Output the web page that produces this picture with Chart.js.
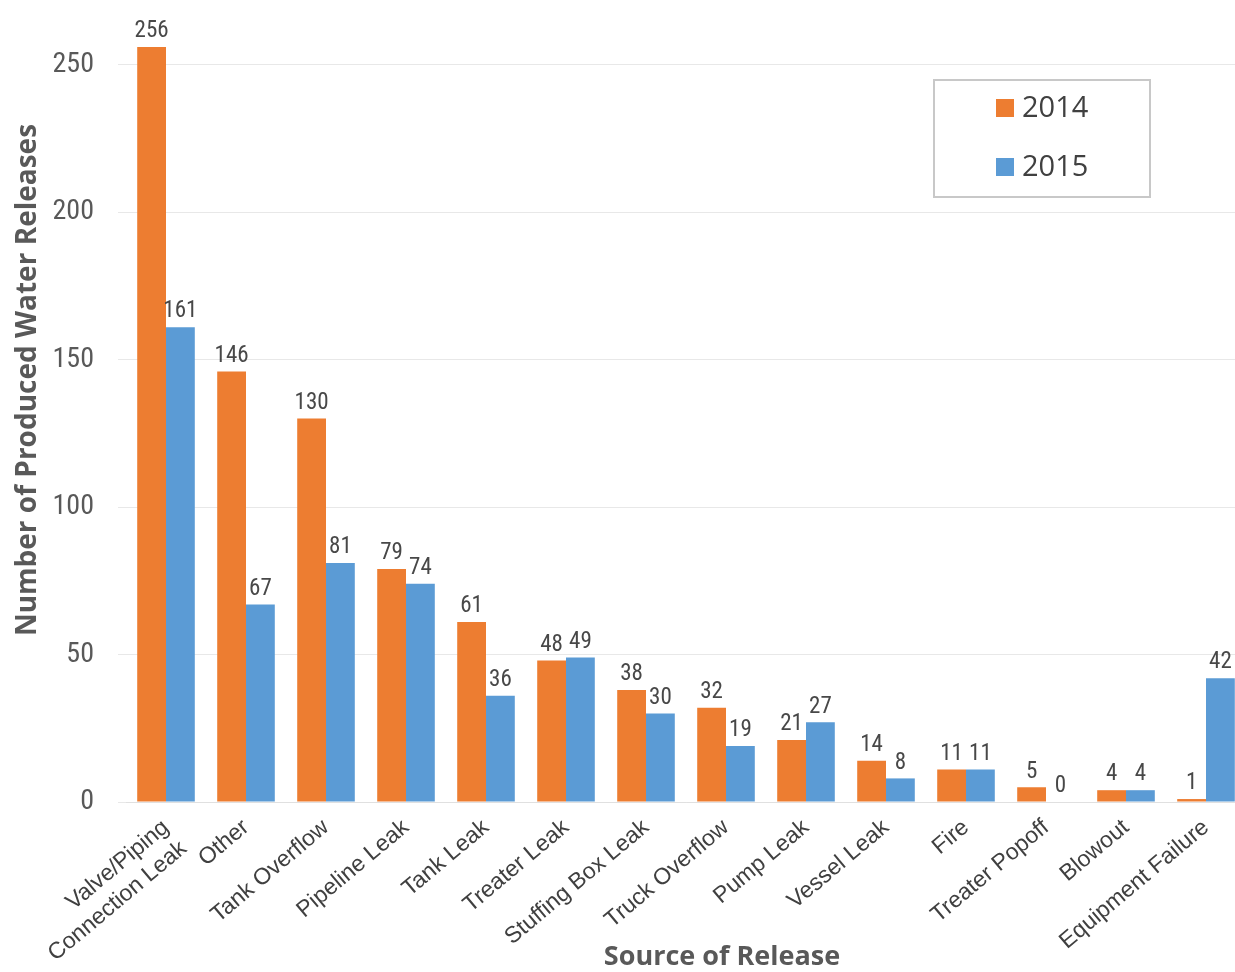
<!DOCTYPE html>
<html>
<head>
<meta charset="utf-8">
<script src="https://cdn.jsdelivr.net/npm/chart.js@4/dist/chart.umd.min.js"></script>
<style>
    html, body { margin: 0; padding: 0; background: #fff; overflow: hidden; }
    #wrap { width: 1250px; height: 972px; position: relative; }
</style>
</head>
<body>
<div id="wrap"><canvas id="releaseChart"></canvas></div>
<script>
// Produced water releases by source
const categories = [
    ['Valve/Piping', 'Connection Leak'], 'Other', 'Tank Overflow', 'Pipeline Leak', 'Tank Leak',
    'Treater Leak', 'Stuffing Box Leak', 'Truck Overflow', 'Pump Leak', 'Vessel Leak',
    'Fire', 'Treater Popoff', 'Blowout', 'Equipment Failure'
];
const releases2014 = [256, 146, 130, 79, 61, 48, 38, 32, 21, 14, 11, 5, 4, 1];
const releases2015 = [161, 67, 81, 74, 36, 49, 30, 19, 27, 8, 11, 0, 4, 42];
const yTicks = [0, 50, 100, 150, 200, 250];

const ORANGE = '#ED7D31';
const BLUE = '#5B9BD5';
const TEXT = '#595959';
const NARROW = "'Liberation Sans Narrow', 'Arial Narrow', 'Roboto Condensed', Arial, sans-serif";
const TITLE_FONT = 'bold 28px "Open Sans", sans-serif';

// value labels above each bar
const barLabels = {
    id: 'barLabels',
    afterDatasetsDraw(chart) {
        const ctx = chart.ctx;
        ctx.save();
        ctx.font = '23px ' + NARROW;
        ctx.fillStyle = '#484848';
        ctx.textAlign = 'center';
        ctx.textBaseline = 'bottom';
        chart.data.datasets.forEach((ds, i) => {
            chart.getDatasetMeta(i).data.forEach((bar, j) => {
                ctx.fillText(ds.data[j], bar.x, bar.y - 4);
            });
        });
        ctx.restore();
    }
};

// axis titles sit off-centre in the original, so draw them by hand
const axisTitles = {
    id: 'axisTitles',
    afterDraw(chart) {
        const ctx = chart.ctx;
        ctx.save();
        ctx.fillStyle = TEXT;
        ctx.textAlign = 'center';
        ctx.textBaseline = 'middle';
        ctx.font = 'bold 27px "Open Sans", sans-serif';
        ctx.fillText('Source of Release', 722, 957);
        ctx.translate(28, 380);
        ctx.rotate(-Math.PI / 2);
        ctx.font = TITLE_FONT;
        ctx.fillText('Number of Produced Water Releases', 0, 0);
        ctx.restore();
    }
};

// boxed legend in upper right
const boxLegend = {
    id: 'boxLegend',
    afterDraw(chart) {
        const ctx = chart.ctx;
        ctx.save();
        ctx.fillStyle = '#fff';
        ctx.fillRect(934, 80, 216, 117);
        ctx.strokeStyle = '#c8c8c8';
        ctx.lineWidth = 2;
        ctx.strokeRect(934, 80, 216, 117);
        ctx.font = '29px "Open Sans", sans-serif';
        ctx.textBaseline = 'middle';
        chart.data.datasets.forEach((ds, i) => {
            const y = 108 + i * 59;
            ctx.fillStyle = ds.backgroundColor;
            ctx.fillRect(996, y - 9, 18, 18);
            ctx.fillStyle = '#404040';
            ctx.fillText(ds.label, 1022, y + 1);
        });
        ctx.restore();
    }
};

const ctx = document.getElementById('releaseChart').getContext('2d');
new Chart(ctx, {
    type: 'bar',
    data: {
        labels: categories,
        datasets: [
            { label: '2014', data: releases2014, backgroundColor: ORANGE },
            { label: '2015', data: releases2015, backgroundColor: BLUE }
        ]
    },
    options: {
        responsive: true,
        maintainAspectRatio: false,
        animation: false,
        layout: { padding: { top: 47, right: 4, left: 0, bottom: 0 } },
        datasets: {
            bar: { categoryPercentage: 0.72, barPercentage: 1 }
        },
        plugins: {
            legend: { display: false },
            tooltip: { enabled: false }
        },
        scales: {
            x: {
                afterFit: axis => { axis.height = 170; },
                grid: { display: false },
                border: { color: '#e0e0e0', width: 1 },
                ticks: {
                    color: '#404040',
                    font: { family: "'Liberation Sans', Arial, sans-serif", size: 23 },
                    minRotation: 40,
                    maxRotation: 40,
                    autoSkip: false,
                    padding: 4
                }
            },
            y: {
                min: 0,
                max: 256,
                afterBuildTicks: axis => {
                    axis.ticks = yTicks.map(v => ({ value: v }));
                },
                afterFit: axis => { axis.width = 126; },
                grid: { color: '#e8e8e8', lineWidth: 1 },
                border: { display: false },
                ticks: {
                    color: TEXT,
                    font: { family: NARROW, size: 28 },
                    padding: 24
                }
            }
        }
    },
    plugins: [barLabels, axisTitles, boxLegend]
});
</script>
</body>
</html>
